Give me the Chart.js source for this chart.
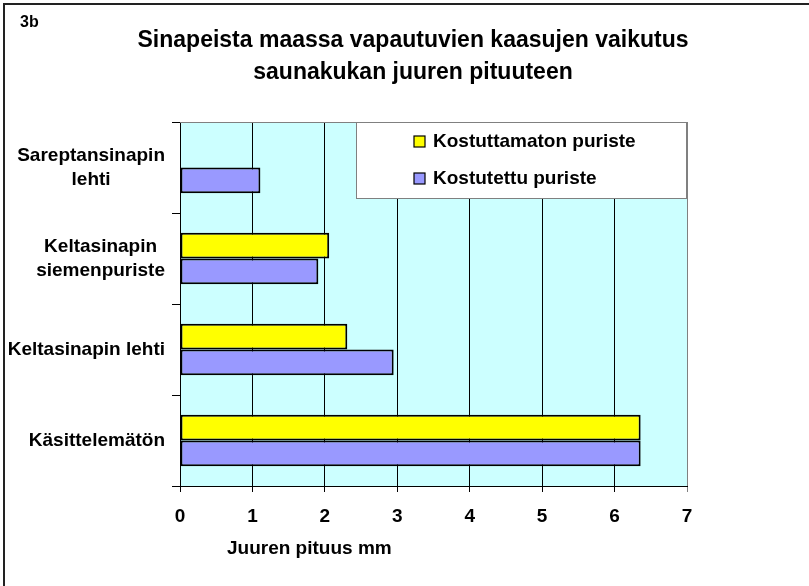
<!DOCTYPE html>
<html>
<head>
<meta charset="utf-8">
<script src="https://cdn.jsdelivr.net/npm/chart.js@4/dist/chart.umd.min.js"></script>
<style>
  html, body { margin: 0; padding: 0; background: #fff; }
  #chart { display: block; }
</style>
</head>
<body>
<canvas id="chart" width="809" height="586"></canvas>
<script>
const FONT = '"Liberation Sans", Arial, sans-serif';

const chartTag = "3b";
const titleLines = ["Sinapeista maassa vapautuvien kaasujen vaikutus", "saunakukan juuren pituuteen"];
const categories = [["Sareptansinapin", "lehti"], ["Keltasinapin", "siemenpuriste"], ["Keltasinapin lehti"], ["Käsittelemätön"]];
const seriesNames = ["Kostuttamaton puriste", "Kostutettu puriste"];
const kostuttamaton = [null, 2.06, 2.31, 6.36];
const kostutettu = [1.11, 1.91, 2.95, 6.36];
const xMin = 0;
const xMax = 7;
const xTitle = "Juuren pituus mm";

const deco = {
	id: "deco",
	beforeDraw(chart) {
		const { ctx, chartArea: a } = chart;
		ctx.save();
		ctx.fillStyle = "#ccffff";
		ctx.fillRect(a.left, a.top, a.right - a.left, a.bottom - a.top);
		ctx.restore();
	},
	afterDraw(chart) {
		const { ctx, chartArea: a } = chart;
		const yScale = chart.scales.y;
		ctx.save();

		// outer frame (top and left only)
		ctx.strokeStyle = "#222";
		ctx.lineWidth = 2;
		ctx.beginPath();
		ctx.moveTo(4, 586);
		ctx.lineTo(4, 4);
		ctx.lineTo(809, 4);
		ctx.stroke();

		// plot top border
		ctx.strokeStyle = "#808080";
		ctx.lineWidth = 1;
		ctx.beginPath();
		ctx.moveTo(a.left, a.top + 0.5);
		ctx.lineTo(a.right, a.top + 0.5);
		ctx.stroke();

		ctx.fillStyle = "#000";
		ctx.textBaseline = "middle";

		// tag and title
		ctx.font = "bold 16px " + FONT;
		ctx.textAlign = "left";
		ctx.fillText(chartTag, 20, 23);
		ctx.font = "bold 23px " + FONT;
		ctx.textAlign = "center";
		titleLines.forEach((line, i) => ctx.fillText(line, 413, 41 + i * 32));

		// category labels, each centred on itself, block right-aligned
		ctx.font = "bold 19px " + FONT;
		categories.forEach((lines, i) => {
			const cy = yScale.getPixelForTick(i);
			const widest = Math.max(...lines.map((l) => ctx.measureText(l).width));
			const cx = a.left - 15 - widest / 2;
			const lh = 24;
			lines.forEach((l, j) => ctx.fillText(l, cx, cy + (j - (lines.length - 1) / 2) * lh));
		});

		// x axis title
		ctx.textAlign = "left";
		ctx.fillText(xTitle, a.left + 47, 549);

		// legend
		const lx = 356;
		const ly = a.top;
		ctx.fillStyle = "#fff";
		ctx.fillRect(lx, ly, a.right - lx, 77);
		ctx.strokeStyle = "#808080";
		ctx.strokeRect(lx + 0.5, ly + 0.5, a.right - lx - 1, 76);
		chart.data.datasets.forEach((ds, i) => {
			const ry = ly + 19 + i * 37;
			ctx.fillStyle = ds.backgroundColor;
			ctx.fillRect(414, ry - 5, 11, 11);
			ctx.strokeStyle = "#000";
			ctx.lineWidth = 1.2;
			ctx.strokeRect(414, ry - 5, 11, 11);
			ctx.fillStyle = "#000";
			ctx.fillText(ds.label, 433, ry + 1);
		});
		ctx.restore();
	},
};

new Chart(document.getElementById("chart"), {
	type: "bar",
	data: {
		labels: categories,
		datasets: [
			{
				label: seriesNames[0],
				data: kostuttamaton,
				backgroundColor: "#ffff00",
				borderColor: "#000",
				borderWidth: 2,
				borderSkipped: false,
			},
			{
				label: seriesNames[1],
				data: kostutettu,
				backgroundColor: "#9999ff",
				borderColor: "#000",
				borderWidth: 2,
				borderSkipped: false,
			},
		],
	},
	options: {
		indexAxis: "y",
		responsive: false,
		animation: false,
		categoryPercentage: 0.565,
		barPercentage: 1,
		layout: { padding: { left: 0, top: 122, right: 122, bottom: 0 } },
		plugins: {
			legend: { display: false },
			title: { display: false },
			tooltip: { enabled: false },
		},
		scales: {
			x: {
				min: xMin,
				max: xMax,
				ticks: {
					stepSize: 1,
					color: "#000",
					padding: 13,
					font: { family: FONT, size: 19, weight: "bold" },
				},
				grid: {
					color: (c) => (c.tick && c.tick.value === xMax ? "#808080" : "#000"),
					tickLength: 6,
				},
				border: { color: "#000" },
				afterFit: (s) => { s.height = 100; },
			},
			y: {
				ticks: { display: false },
				grid: { drawOnChartArea: false, color: "#000", tickLength: 8 },
				border: { color: "#000" },
				afterFit: (s) => { s.width = 180; },
			},
		},
	},
	plugins: [deco],
});
</script>
</body>
</html>
